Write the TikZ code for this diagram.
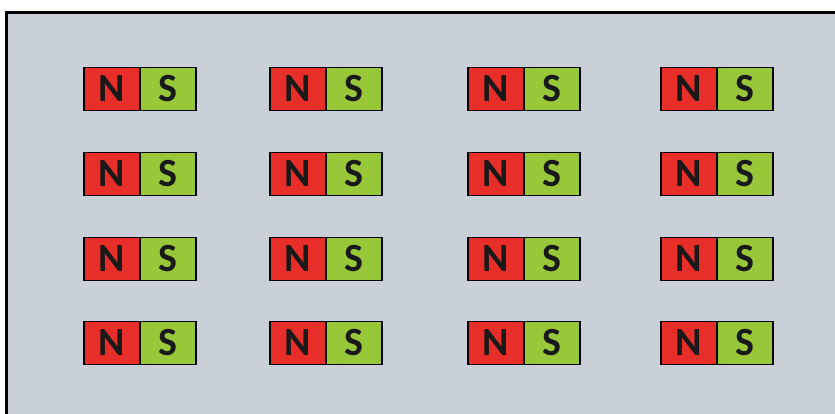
\documentclass[tikz,border=0pt]{standalone}
\usepackage{fontspec}
\setmainfont{Carlito}
\usetikzlibrary{positioning}
\definecolor{bgsteel}{RGB}{201,208,215}
\definecolor{poleN}{RGB}{232,46,40}
\definecolor{poleS}{RGB}{152,200,58}

\begin{document}
\begin{tikzpicture}[
    x=1pt, y=-1pt,
    pole/.style  = {draw, line width=1.6pt, outer sep=0pt, inner sep=0pt,
                    minimum width=56pt, minimum height=43pt,
                    font=\fontsize{40}{40}\selectfont\bfseries, text=black!90},
    north/.style = {pole, fill=poleN},
    south/.style = {pole, fill=poleS},
]
\useasboundingbox (0,0) rectangle (835,414);

%% -- background panel ----------------------------------------------------
\fill[bgsteel] (6,13) rectangle (835,414);
\draw[line width=3pt] (6,414) -- (6,13) -- (835,13);

%% -- magnets ---------------------------------------------------------------
\foreach \cx [count=\i] in {140,326,524,717} {
  \foreach \cy [count=\j] in {89,174,259,343} {
    \node[north, anchor=east] (n\i\j) at (\cx,\cy) {N};
    \node[south, right=0pt of n\i\j] (s\i\j) {S};
  }
}

\end{tikzpicture}
\end{document}
